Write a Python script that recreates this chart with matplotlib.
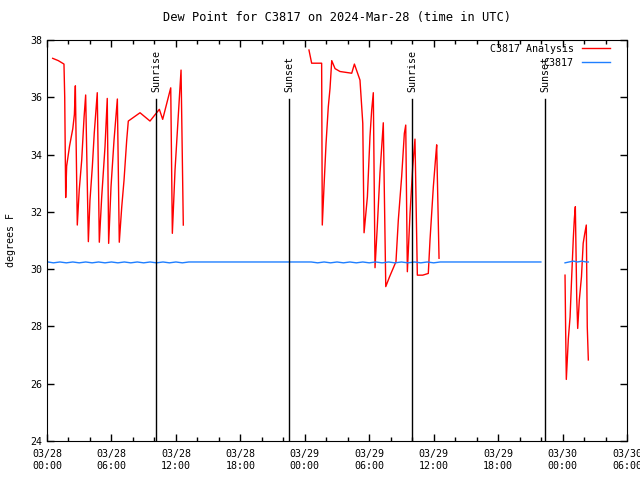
import numpy as np
import matplotlib.pyplot as plt
from matplotlib.ticker import MultipleLocator

# hours since 2024-03-28 00:00 UTC --------------------------------------
red_t = [0.53, 1.05, 1.58, 1.65, 1.74, 1.83, 2.1, 2.4, 2.55, 2.64,
         2.82, 3.0, 3.23, 3.45, 3.6,
         3.85, 4.0, 4.22, 4.4, 4.68,
         4.87, 5.09, 5.4, 5.61,
         5.74, 5.96, 6.24, 6.55,
         6.73, 6.96, 7.17, 7.42, 7.57,
         8.66, 9.59, 10.46, 10.77, 11.52, 11.67, 11.92, 12.32, 12.48, 12.69,
         np.nan,
         24.39, 24.64, 25.57, 25.6, 25.63, 25.79, 25.98, 26.19, 26.35, 26.51,
         26.82, 27.28, 28.37, 28.62, 29.14, 29.4, 29.52,
         29.83, 30.07, 30.23, 30.38,
         30.54, 30.75, 31.0, 31.31,
         31.54, 31.9, 32.49,
         32.71, 33.02, 33.27, 33.4,
         33.55, 33.8, 34.05, 34.26,
         34.48, 34.98, 35.5,
         35.66, 35.97, 36.19, 36.28, 36.5,
         np.nan,
         48.23, 48.29, 48.35, 48.54, 48.7, 48.85, 49.0, 49.1, 49.19,
         49.32, 49.41, 49.56, 49.76, 49.92, 50.07, 50.21, 50.3, 50.4]
red_v = [37.36, 37.28, 37.16, 36.0, 32.5, 33.6, 34.3, 34.9, 35.4, 36.4,
         31.54, 32.76, 33.8, 35.3, 36.08,
         30.96, 32.4, 33.57, 34.75, 36.16,
         30.94, 32.5, 34.27, 35.96,
         30.9, 32.88, 34.5, 35.94,
         30.94, 32.18, 33.1, 34.5, 35.17,
         35.46, 35.17, 35.58, 35.23, 36.33, 31.25, 33.46, 35.96, 36.95, 31.54,
         np.nan,
         37.65, 37.19, 37.19, 34.39, 31.54, 32.88, 34.39, 35.67, 36.31, 37.28,
         37.0, 36.9, 36.84, 37.16, 36.6, 35.09, 31.27,
         32.53, 34.63, 35.56, 36.16,
         30.05, 31.48, 33.35, 35.11,
         29.39, 29.74, 30.26,
         31.72, 33.23, 34.74, 35.03,
         29.91, 31.95, 33.57, 34.54,
         29.79, 29.79, 29.85,
         31.02, 32.88, 33.93, 34.34, 30.38,
         np.nan,
         29.79, 27.81, 26.15, 27.58, 28.33, 29.73, 31.07, 31.77, 32.18,
         28.98, 27.93, 28.92, 29.73, 30.9, 31.25, 31.54, 27.99, 26.83]

blue_t = [0.1, 0.6, 1.2, 1.8, 2.4, 3.0, 3.6, 4.2, 4.8, 5.4, 6.0, 6.6, 7.2,
          7.8, 8.4, 9.0, 9.6, 10.2, 10.8, 11.4, 12.0, 12.6, 13.2,
          24.6, 25.2, 25.8, 26.4, 27.0, 27.6, 28.2, 28.8, 29.4, 30.0, 30.6,
          31.2, 31.8, 32.4, 33.0, 33.6, 34.2, 34.8, 35.4, 36.0, 36.6, 45.98,
          np.nan,
          48.23, 48.6, 49.0, 49.4, 49.8, 50.2, 50.4]
blue_v = [30.25, 30.22, 30.25, 30.22, 30.25, 30.22, 30.25, 30.22, 30.25,
          30.22, 30.25, 30.22, 30.25, 30.22, 30.25, 30.22, 30.25, 30.22,
          30.25, 30.22, 30.25, 30.22, 30.25,
          30.25, 30.22, 30.25, 30.22, 30.25, 30.22, 30.25, 30.22, 30.25,
          30.22, 30.25, 30.22, 30.25, 30.22, 30.25, 30.22, 30.25, 30.22,
          30.25, 30.22, 30.25, 30.25,
          np.nan,
          30.22, 30.25, 30.28, 30.25, 30.28, 30.25, 30.25]

sun_t = [10.15, 22.53, 33.98, 46.37]
sun_lbl = ['Sunrise', 'Sunset', 'Sunrise', 'Sunset']

xticks = [0, 6, 12, 18, 24, 30, 36, 42, 48, 54]
xtick_lbl = ['03/28\n00:00', '03/28\n06:00', '03/28\n12:00', '03/28\n18:00',
             '03/29\n00:00', '03/29\n06:00', '03/29\n12:00', '03/29\n18:00',
             '03/30\n00:00', '03/30\n06:00']

plt.rcParams['font.family'] = ['DejaVu Sans Mono']
plt.rcParams['font.size'] = 7.2

fig = plt.figure(figsize=(6.4, 4.8), dpi=100)
ax = fig.add_axes([47/640, 1 - 441/480, 580/640, 401/480])

ax.plot(red_t, red_v, color='red', lw=1, label='C3817 Analysis')
ax.plot(blue_t, blue_v, color='#1f7fff', lw=1, label='C3817')

for t, s in zip(sun_t, sun_lbl):
    ax.plot([t, t], [24, 35.95], color='black', lw=1)
    ax.text(t, 36.2, s, rotation=90, ha='center', va='bottom')

ax.set_xlim(0, 54)
ax.set_ylim(24, 38)
ax.set_xticks(xticks)
ax.set_xticklabels(xtick_lbl)
ax.xaxis.set_minor_locator(MultipleLocator(2))
ax.yaxis.set_major_locator(MultipleLocator(2))
ax.tick_params(which='both', direction='in', top=True, right=True, width=1)
ax.tick_params(which='major', length=5)
ax.tick_params(which='minor', length=3)
ax.tick_params(axis='x', pad=6)

ax.set_ylabel('degrees F')
ax.yaxis.set_label_coords(-0.053, 0.5)
ax.set_title('Dew Point for C3817 on 2024-Mar-28 (time in UTC)', pad=14)
ax.legend(loc='upper right', frameon=False, markerfirst=False,
          handlelength=2.8, borderaxespad=1.0, labelspacing=0.4,
          bbox_to_anchor=(0.994, 1.025))

fig.savefig('out.png', dpi=100)
